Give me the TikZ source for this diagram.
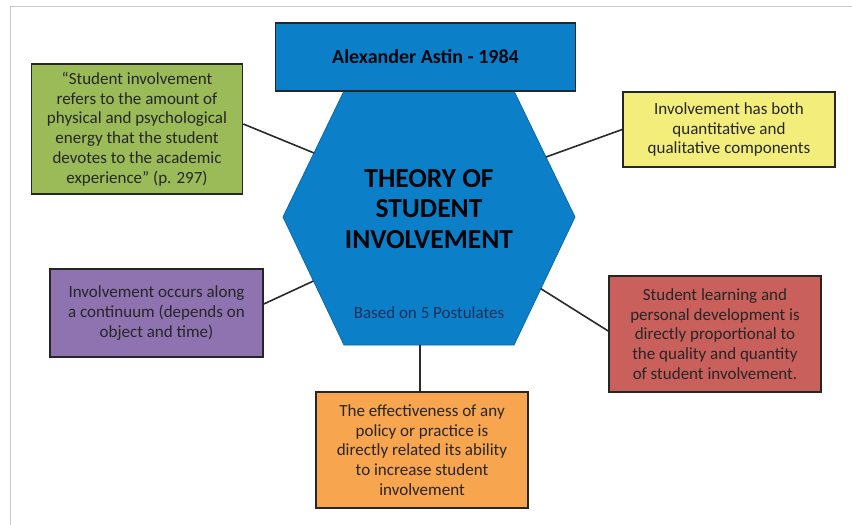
\documentclass[tikz,border=0pt]{standalone}
\usepackage{fontspec}
\setmainfont{Carlito}
\usetikzlibrary{calc}
\definecolor{astinblue}{HTML}{0B80C8}
\definecolor{hexedge}{HTML}{0A69A8}
\definecolor{boxline}{HTML}{262626}
\definecolor{linkcol}{HTML}{2A2A2A}
\definecolor{textdark}{HTML}{262626}
\definecolor{navytext}{HTML}{1B2F5A}
\definecolor{greenbox}{HTML}{9BBB59}
\definecolor{yellowbox}{HTML}{F3EE7B}
\definecolor{purplebox}{HTML}{8F73B1}
\definecolor{redbox}{HTML}{C9605B}
\definecolor{orangebox}{HTML}{F8A54F}
\definecolor{framegray}{HTML}{C8C8C8}
\begin{document}
\begin{tikzpicture}[x=1pt,y=-1pt,
  box/.style={draw=boxline, line width=1.6pt, align=center, inner sep=0pt,
    font=\fontsize{17}{19.8}\selectfont, text=textdark},
  link/.style={draw=linkcol, line width=1.6pt}]
\useasboundingbox (0,0) rectangle (852,525);
\fill[white] (0,0) rectangle (852,525);
\draw[framegray, line width=1pt] (10,525) -- (10,6) -- (852,6);
% hexagon
\coordinate (hTL) at (344,91);
\coordinate (hTR) at (514,91);
\coordinate (hR) at (575,217);
\coordinate (hBR) at (514,345);
\coordinate (hBL) at (344,345);
\coordinate (hL) at (283,217);
\draw[fill=astinblue, draw=hexedge, line width=0.8pt]
  (hTL) -- (hTR) -- (hR) -- (hBR) -- (hBL) -- (hL) -- cycle;
\node[box, fill=astinblue, minimum width=300pt, minimum height=68pt,
  font=\bfseries\fontsize{20}{24}\selectfont, text=black!85!navytext] (title) at (425.5,57) {Alexander Astin - 1984};
\node[align=center, font=\bfseries\fontsize{27.5}{30.5}\selectfont, text=black!90!navytext] (theory) at (429,209)
  {THEORY OF\\STUDENT\\INVOLVEMENT};
\node[font=\fontsize{17}{19}\selectfont, text=navytext] (based) at (429,313) {Based on 5 Postulates};
% boxes
\node[box, fill=greenbox, minimum width=211pt, minimum height=130pt] (green) at (137,129)
  {“Student involvement\\refers to the amount of\\physical and psychological\\energy that the student\\devotes to the academic\\experience” (p. 297)};
\node[box, fill=yellowbox, minimum width=212pt, minimum height=75pt] (yellow) at (729,129.5)
  {Involvement has both\\quantitative and\\qualitative components};
\node[box, fill=purplebox, minimum width=213pt, minimum height=88pt] (purple) at (156.5,313)
  {Involvement occurs along\\a continuum (depends on\\object and time)};
\node[box, fill=redbox, minimum width=212pt, minimum height=116pt] (red) at (715,334)
  {Student learning and\\personal development is\\directly proportional to\\the quality and quantity\\of student involvement.};
\node[box, fill=orangebox, minimum width=212pt, minimum height=116pt] (orange) at (422,450)
  {The effectiveness of any\\policy or practice is\\directly related its ability\\to increase student\\involvement};
% connector end points on the hexagon
\coordinate (hG) at ($(hL)!0.508!(hTL)$);
\coordinate (hY) at ($(hTR)!0.524!(hR)$);
\coordinate (hP) at ($(hL)!0.5!(hBL)$);
\coordinate (hRd) at ($(hR)!0.56!(hBR)$);
\coordinate (hO) at (420,345);
% connectors
\draw[link] ($(green.east)+(0,-5)$) -- (hG);
\draw[link] (yellow.west) -- (hY);
\draw[link] ($(purple.east)+(0,-9)$) -- (hP);
\draw[link] ($(red.west)+(0,-3)$) -- (hRd);
\draw[link] ($(orange.north)+(-2,0)$) -- (hO);
\end{tikzpicture}
\end{document}
